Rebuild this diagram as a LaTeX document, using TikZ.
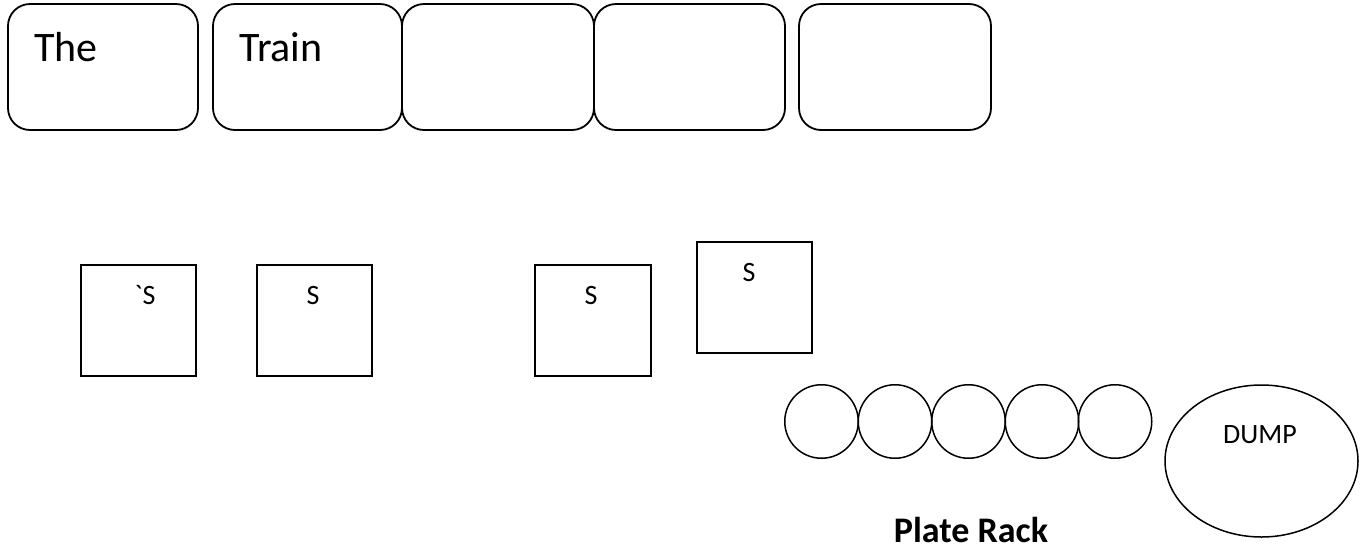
\documentclass[tikz,border=0pt]{standalone}
\usepackage{fontspec}
\setmainfont{Carlito}
\usetikzlibrary{shapes.geometric}
\begin{document}
\begin{tikzpicture}[x=1pt,y=-1pt,
  tbox/.style={draw,line width=1.8pt,rounded corners=22pt,minimum width=190pt,minimum height=126pt,inner sep=0pt},
  sqbox/.style={draw,line width=1.8pt,minimum width=115pt,minimum height=111pt,inner sep=0pt},
  plate/.style={draw,circle,line width=1.5pt,minimum size=73.5pt,inner sep=0pt},
  dump/.style={draw,ellipse,line width=1.5pt,minimum width=193pt,minimum height=152pt,inner sep=0pt},
  bigtxt/.style={anchor=base west,inner sep=0pt,font=\fontsize{42}{50}\selectfont},
  stxt/.style={anchor=base,inner sep=0pt,font=\fontsize{28}{34}\selectfont},
  racktxt/.style={anchor=base,inner sep=0pt,text depth=0pt,font=\fontsize{36}{42}\selectfont\bfseries}]
\useasboundingbox (0,0) rectangle (1363,550);
% train cars
\node[tbox] (b1) at (103,67) {};
\node[tbox,minimum width=189pt] (b2) at (307.5,67) {};
\node[tbox,minimum width=192pt] (b3) at (498,67) {};
\node[tbox,minimum width=191pt] (b4) at (689.5,67) {};
\node[tbox,minimum width=192pt] (b5) at (895,67) {};
\node[bigtxt] (t1) at (34,61) {The};
\node[bigtxt] (t2) at (239,61) {Train};
% squares
\node[sqbox] (s1) at (138.5,320.5) {};
\node[sqbox] (s2) at (314.5,320.5) {};
\node[sqbox,minimum width=116pt] (s3) at (593,320.5) {};
\node[sqbox] (s4) at (754.5,297.5) {};
\node[stxt] (l1) at (145,304) {\textasciigrave S};
\node[stxt] (l2) at (313,304) {S};
\node[stxt] (l3) at (591,304) {S};
\node[stxt] (l4) at (749,281) {S};
% plate rack
\node[plate] (p1) at (821.5,421.5) {};
\node[plate] (p2) at (895,421.5) {};
\node[plate] (p3) at (968.5,421.5) {};
\node[plate] (p4) at (1042,421.5) {};
\node[plate] (p5) at (1115,421.5) {};
\node[racktxt] (rack) at (971,542) {Plate Rack};
% dump
\node[dump] (d) at (1261.5,461) {};
\node[stxt] (dl) at (1260,443) {DUMP};
\end{tikzpicture}
\end{document}
